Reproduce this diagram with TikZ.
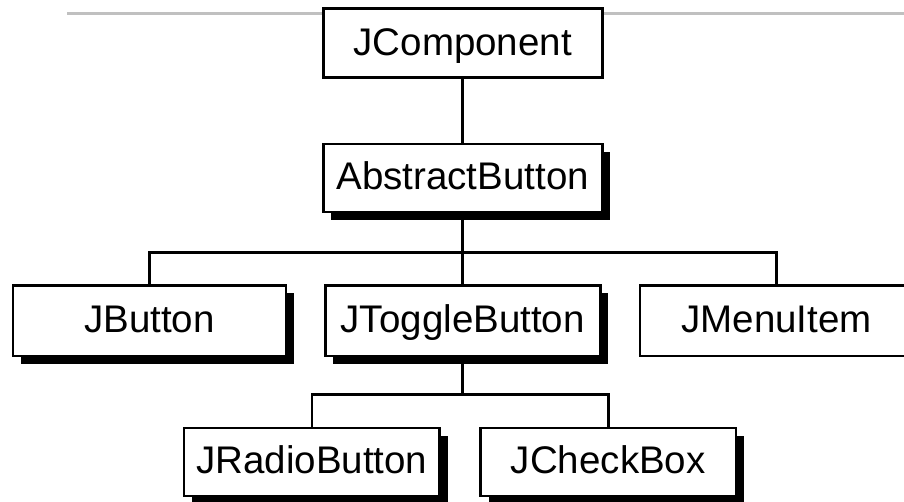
\documentclass[tikz,border=0pt]{standalone}
\usepackage{fontspec}
\setmainfont{Liberation Sans}
\usetikzlibrary{shadows,backgrounds}
\definecolor{rulegray}{RGB}{192,192,192}
\tikzset{
  cls/.style={draw=black, fill=white, line width=2.7pt, inner sep=0pt,
    minimum height=#1, text height=27.5pt, text depth=4pt,
    font=\fontsize{38.5}{44}\selectfont},
  cls/.default={70pt},
  shad/.style={drop shadow={shadow xshift=8pt, shadow yshift=-8pt, fill=black, opacity=1}},
  conn/.style={draw=black, line width=2.6pt},
  topline/.style={draw=rulegray, line width=3.3pt}
}
\begin{document}
\begin{tikzpicture}[x=1pt, y=-1pt]
\useasboundingbox (0,0) rectangle (904,502);
\clip (0,0) rectangle (904,502);
% nodes
\node[cls=69pt, minimum width=279pt] (jc) at (462.7,43.3) {JComponent};
\node[cls=68pt, minimum width=279pt, shad] (ab) at (462.7,178) {AbstractButton};
\node[cls=70.5pt, minimum width=273pt, shad] (jb) at (149.5,320.7) {JButton};
\node[cls=70.5pt, minimum width=275pt, shad] (jt) at (462.7,320.7) {JToggleButton};
\node[cls=70.5pt, minimum width=273pt] (jm) at (776.5,320.7) {JMenuItem};
\node[cls=68pt, minimum width=255.5pt, shad] (jr) at (311.8,462) {JRadioButton};
\node[cls=68pt, minimum width=255.5pt, shad] (jx) at (608.3,462) {JCheckBox};
\coordinate (bus1) at (462.7,252.7);
\coordinate (bus2) at (462.7,394.5);
\coordinate (ruleL) at (67,13.7);
\coordinate (ruleR) at (904,13.7);
\begin{pgfonlayer}{background}
  \draw[topline] (ruleL) -- (ruleR);
  \draw[conn] (jc.south) -- (ab.north);
  \draw[conn] (ab.south) -- (bus1);
  \draw[conn] (jb.north) |- (bus1);
  \draw[conn] (jm.north) |- (bus1);
  \draw[conn] (jt.north) -- (bus1);
  \draw[conn] (jt.south) -- (bus2);
  \draw[conn] (jr.north) |- (bus2);
  \draw[conn] (jx.north) |- (bus2);
\end{pgfonlayer}
\end{tikzpicture}
\end{document}
